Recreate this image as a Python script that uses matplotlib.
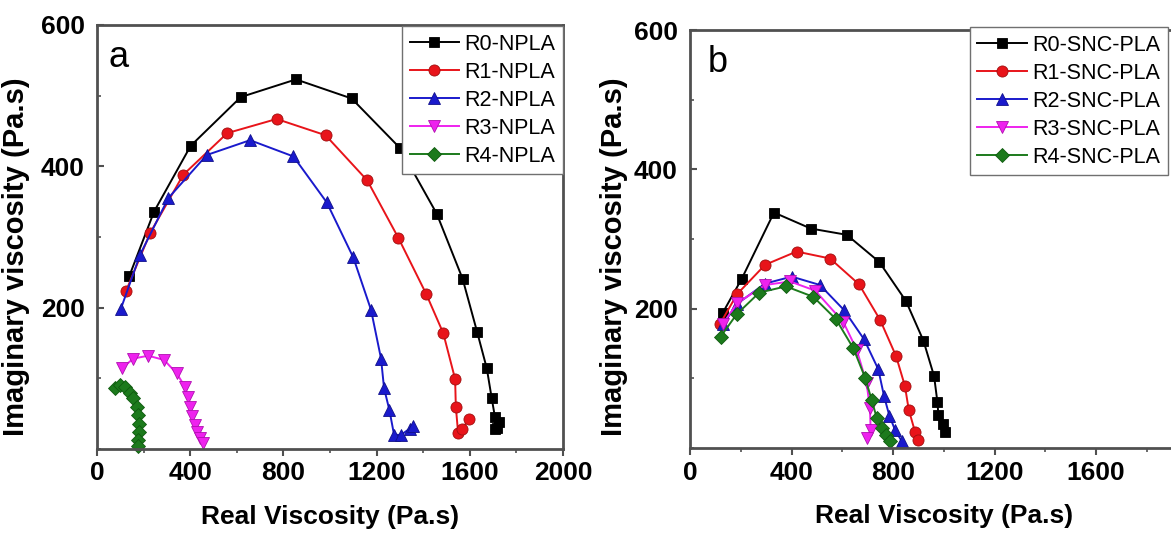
import matplotlib
matplotlib.use("Agg")
import matplotlib.pyplot as plt
from matplotlib.ticker import MultipleLocator
import warnings

warnings.filterwarnings("ignore")

# ---- Panel a: neat PLA blends ----
labels_a = ["R0-NPLA", "R1-NPLA", "R2-NPLA", "R3-NPLA", "R4-NPLA"]
r0_a_x = [139, 245, 402, 617, 854, 1093, 1300, 1458, 1569, 1632, 1673, 1694, 1708, 1710, 1725, 1718]
r0_a_y = [245, 336, 429, 498, 523, 496, 426, 333, 241, 165, 114, 72, 45, 28, 38, 30]
r1_a_x = [124, 227, 370, 559, 771, 981, 1160, 1293, 1412, 1486, 1537, 1540, 1550, 1565, 1597]
r1_a_y = [223, 305, 388, 447, 467, 444, 380, 299, 220, 164, 99, 60, 22, 28, 42]
r2_a_x = [102, 185, 306, 471, 657, 843, 986, 1100, 1176, 1219, 1232, 1255, 1275, 1305, 1343, 1357]
r2_a_y = [198, 275, 355, 416, 437, 414, 349, 271, 197, 128, 86, 55, 20, 20, 29, 33]
r3_a_x = [106, 156, 220, 288, 342, 378, 389, 399, 406, 421, 428, 442, 456]
r3_a_y = [114, 128, 132, 126, 107, 88, 74, 60, 46, 34, 24, 15, 8]
r4_a_x = [77, 99, 120, 142, 156, 170, 177, 182, 182, 177, 177]
r4_a_y = [86, 91, 88, 79, 72, 60, 48, 36, 24, 13, 4]

# ---- Panel b: SNC-PLA blends ----
labels_b = ["R0-SNC-PLA", "R1-SNC-PLA", "R2-SNC-PLA", "R3-SNC-PLA", "R4-SNC-PLA"]
r0_b_x = [129, 204, 331, 476, 618, 746, 851, 920, 962, 975, 979, 998, 1005]
r0_b_y = [194, 243, 338, 315, 306, 267, 211, 154, 103, 66, 47, 35, 23]
r1_b_x = [118, 186, 296, 420, 552, 666, 749, 812, 847, 862, 887, 900]
r1_b_y = [178, 221, 263, 282, 272, 235, 184, 132, 89, 55, 23, 11]
r2_b_x = [131, 186, 296, 401, 512, 607, 686, 742, 765, 786, 808, 834]
r2_b_y = [178, 207, 236, 246, 234, 198, 156, 113, 74, 46, 26, 10]
r3_b_x = [129, 186, 296, 394, 493, 604, 657, 696, 709, 712, 699]
r3_b_y = [178, 208, 234, 239, 226, 181, 141, 93, 57, 26, 14]
r4_b_x = [121, 184, 273, 378, 486, 575, 644, 690, 716, 736, 755, 772, 787]
r4_b_y = [160, 192, 223, 232, 217, 185, 143, 101, 69, 43, 28, 19, 10]

colors = ["#000000", "#e8141a", "#1a1acc", "#ee22ee", "#1c7a1c"]
edges = ["#000000", "#a01010", "#10108a", "#b010b0", "#0f5a0f"]
markers = ["s", "o", "^", "v", "D"]
msizes = [7, 8, 8, 8, 7]

TICK_FONT = ["Liberation Sans", "DejaVu Sans"]
TEXT_FONT = ["Liberation Sans", "DejaVu Sans"]
SPINE = "#505050"

fig = plt.figure(figsize=(11.71, 5.34), dpi=100)
fig.patch.set_facecolor("white")

ax_a = fig.add_axes([97 / 1171, 1 - 449 / 534, 466 / 1171, 424 / 534])
ax_b = fig.add_axes([690 / 1171, 1 - 448 / 534, 507.5 / 1171, 418 / 534])


def style_axes(ax, xmax_ticks, ylabel_xy):
    ax.set_xlim(0, 2000)
    ax.set_ylim(0, 600)
    ax.xaxis.set_major_locator(MultipleLocator(400))
    ax.xaxis.set_minor_locator(MultipleLocator(200))
    ax.yaxis.set_major_locator(MultipleLocator(200))
    ax.yaxis.set_minor_locator(MultipleLocator(100))
    ax.set_xticks([t for t in range(0, 2001, 400) if t <= xmax_ticks])
    ax.set_yticks([200, 400, 600])
    for s in ax.spines.values():
        s.set_color(SPINE)
        s.set_linewidth(2.0)
    ax.tick_params(axis="x", which="major", direction="out", length=5, width=1.5,
                   color=SPINE, pad=4)
    ax.tick_params(axis="x", which="minor", direction="out", length=3, width=1.2,
                   color=SPINE)
    ax.tick_params(axis="y", which="major", direction="in", length=5, width=1.5,
                   color=SPINE, pad=9)
    ax.tick_params(axis="y", which="minor", direction="in", length=3, width=1.2,
                   color=SPINE)
    for lab in ax.get_xticklabels() + ax.get_yticklabels():
        lab.set_family(TICK_FONT)
        lab.set_fontweight("bold")
        lab.set_fontsize(19)
    ax.set_xlabel("Real Viscosity (Pa.s)", family=TICK_FONT, fontweight="bold",
                  fontsize=19, labelpad=14)
    ax.set_ylabel("Imaginary viscosity (Pa.s)", family=TEXT_FONT, fontweight="bold",
                  fontsize=21)
    ax.yaxis.set_label_coords(*ylabel_xy)


series_a = [(r0_a_x, r0_a_y), (r1_a_x, r1_a_y), (r2_a_x, r2_a_y),
            (r3_a_x, r3_a_y), (r4_a_x, r4_a_y)]
series_b = [(r0_b_x, r0_b_y), (r1_b_x, r1_b_y), (r2_b_x, r2_b_y),
            (r3_b_x, r3_b_y), (r4_b_x, r4_b_y)]

for i, (x, y) in enumerate(series_a):
    ax_a.plot(x, y, color=colors[i], lw=1.4, marker=markers[i], ms=msizes[i],
              mfc=colors[i], mec=edges[i], mew=0.6, label=labels_a[i], clip_on=False)
for i, (x, y) in enumerate(series_b):
    ax_b.plot(x, y, color=colors[i], lw=1.4, marker=markers[i], ms=msizes[i],
              mfc=colors[i], mec=edges[i], mew=0.6, label=labels_b[i], clip_on=False)

# y-label anchors: right edge of the rotated text, a little below mid-height
style_axes(ax_a, 2000, (-0.143, 0.453))
style_axes(ax_b, 1600, (-0.123, 0.457))

ax_a.text(0.025, 0.965, "a", transform=ax_a.transAxes, fontsize=26,
          family=TEXT_FONT, va="top", ha="left")
ax_b.text(0.035, 0.965, "b", transform=ax_b.transAxes, fontsize=26,
          family=TEXT_FONT, va="top", ha="left")

leg_kw = dict(loc="upper right", bbox_transform=fig.transFigure, borderaxespad=0,
              fancybox=False, framealpha=1, edgecolor="#707070",
              prop={"family": TEXT_FONT, "size": 15.5}, handlelength=2.3,
              handletextpad=0.25, labelspacing=0.33, borderpad=0.35,
              markerscale=1.0)
leg_a = ax_a.legend(bbox_to_anchor=(563 / 1171, 1 - 26 / 534), **leg_kw)
leg_b = ax_b.legend(bbox_to_anchor=(1168 / 1171, 1 - 27 / 534), **leg_kw)
for leg in (leg_a, leg_b):
    leg.get_frame().set_linewidth(1.0)

fig.savefig("out.png", dpi=100, facecolor="white")
